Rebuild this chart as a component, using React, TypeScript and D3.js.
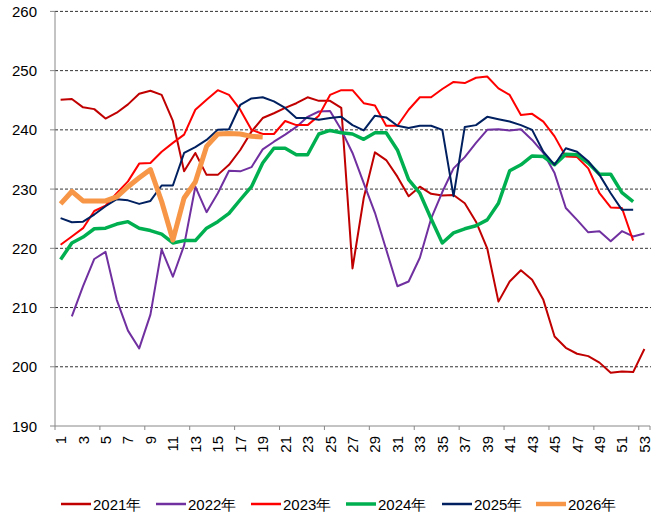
import React from "react";
import * as d3 from "d3";

const weeks: number[] = Array.from({ length: 53 }, (_, i) => i + 1);
const yTicks: number[] = [190, 200, 210, 220, 230, 240, 250, 260];
const seriesNames: string[] = ["2021年", "2022年", "2023年", "2024年", "2025年", "2026年"];
const seriesColors: string[] = ["#C00000", "#7030A0", "#FF0000", "#00B050", "#002060", "#F79646"];
const seriesWidths: number[] = [2, 2, 2, 3.5, 2, 5];

const s2021: (number | null)[] = [245.1, 245.2, 243.8, 243.5, 241.9, 242.9, 244.3, 246.1, 246.6, 245.9, 241.5, 233, 236.1, 232.4, 232.4, 234.1, 236.6, 239.7, 242, 242.8, 243.7, 244.5, 245.5, 244.9, 244.9, 243.7, 216.6, 228.5, 236.2, 234.9, 232.1, 228.8, 230.4, 229.2, 228.9, 229, 227.6, 224.5, 220, 211, 214.4, 216.3, 214.7, 211.3, 205.1, 203.2, 202.2, 201.8, 200.7, 199, 199.2, 199.1, 203];
const s2022: (number | null)[] = [null, 208.5, 213.6, 218.2, 219.4, 211.3, 206.1, 203.1, 208.8, 219.8, 215.2, 220.5, 230.4, 226.1, 229.3, 233.1, 233, 233.7, 236.7, 238, 239.2, 240.5, 242.2, 243.1, 243.2, 240, 236.1, 231, 226, 219.8, 213.6, 214.4, 218.4, 225, 229.5, 233.5, 235.4, 237.8, 240, 240.1, 239.9, 240.1, 238.3, 236.1, 232.7, 226.8, 224.8, 222.7, 222.9, 221.2, 222.9, 222, 222.5];
const s2023: (number | null)[] = [220.6, 222, 223.4, 226.3, 227.2, 229.3, 231.3, 234.3, 234.4, 236.3, 237.8, 239.2, 243.4, 245.1, 246.7, 245.9, 243.4, 240, 239.3, 239.3, 241.5, 240.8, 240.8, 242.4, 245.9, 246.7, 246.7, 244.5, 244.1, 240.7, 240.7, 243.4, 245.5, 245.5, 246.9, 248.1, 247.9, 248.8, 249, 247, 245.9, 242.5, 242.7, 241.4, 238.9, 235.5, 235.4, 233.5, 229.3, 226.9, 226.8, 221.3, null];
const s2024: (number | null)[] = [218.1, 220.9, 221.9, 223.3, 223.4, 224.1, 224.5, 223.4, 223, 222.4, 220.9, 221.3, 221.3, 223.4, 224.5, 225.9, 228.2, 230.4, 234.4, 236.9, 236.9, 235.8, 235.8, 239.3, 239.9, 239.5, 239.3, 238.4, 239.5, 239.5, 236.6, 231.6, 229.3, 225, 220.9, 222.6, 223.3, 223.8, 224.8, 227.6, 233.1, 234.1, 235.6, 235.5, 234.1, 235.9, 235.8, 234.4, 232.5, 232.5, 229.4, 227.9, null];
const s2025: (number | null)[] = [225.1, 224.4, 224.5, 225.7, 227.1, 228.3, 228.1, 227.5, 228, 230.6, 230.6, 236.1, 237.1, 238.3, 240, 240.1, 244.2, 245.3, 245.5, 244.8, 243.7, 242, 242, 241.7, 242, 242.2, 240.8, 239.9, 242.4, 242.1, 240.7, 240.3, 240.7, 240.7, 240, 228.8, 240.5, 240.8, 242.2, 241.8, 241.4, 240.8, 240, 236.3, 234.1, 236.9, 236.3, 234.7, 232.4, 229.3, 226.5, 226.5, null];
const s2026: (number | null)[] = [227.5, 229.6, 228, 228, 228, 228.7, 230.4, 231.9, 233.3, 227.9, 221.4, 228.5, 231.2, 237.2, 239.3, 239.4, 239.3, 238.9, 238.8];

const allSeries = [s2021, s2022, s2023, s2024, s2025, s2026];

const W = 665;
const H = 518;
const FONT = "'Liberation Sans Narrow', 'Liberation Sans', Arial, sans-serif";

export default function App() {
  const x = d3.scaleBand<number>().domain(weeks).range([55, 650]).padding(0);
  const y = d3.scaleLinear().domain([190, 260]).range([426, 11.4]);
  const cx = (w: number) => (x(w) as number) + x.bandwidth() / 2;

  const line = d3
    .line<number | null>()
    .defined((d) => d != null)
    .x((_, i) => cx(weeks[i]))
    .y((d) => y(d as number));

  const tickWeeks = weeks.filter((w) => (w - 1) % 4 === 0);
  const legendX = [61, 156, 251, 346, 442, 536];

  return (
    <svg
      width={W}
      height={H}
      style={{ position: "absolute", left: 0, top: 0, background: "#fff" }}
    >
      {/* gridlines */}
      {yTicks.filter((t) => t !== 190).map((t) => (
        <line
          key={"g" + t}
          x1={55}
          x2={651}
          y1={y(t)}
          y2={y(t)}
          stroke="#333"
          strokeWidth={1}
          strokeDasharray="3,2"
        />
      ))}
      {/* y axis */}
      <line x1={55} x2={55} y1={y(260)} y2={y(190)} stroke="#888" strokeWidth={1} />
      {yTicks.map((t) => (
        <g key={"yt" + t}>
          <line x1={50} x2={55} y1={y(t)} y2={y(t)} stroke="#888" />
          <text
            x={37}
            y={y(t)}
            textAnchor="end"
            dominantBaseline="central"
            fontFamily={FONT}
            fontSize={15}
            fill="#000"
          >
            {t}
          </text>
        </g>
      ))}
      {/* x axis */}
      <line x1={55} x2={650} y1={y(190)} y2={y(190)} stroke="#888" strokeWidth={1} />
      {tickWeeks.map((w) => (
        <line
          key={"xt" + w}
          x1={x(w) as number}
          x2={x(w) as number}
          y1={y(190)}
          y2={y(190) + 4}
          stroke="#888"
        />
      ))}
      <line x1={650} x2={650} y1={y(190)} y2={y(190) + 4} stroke="#888" />
      {weeks.filter((w) => w % 2 === 1).map((w) => (
        <text
          key={"xl" + w}
          transform={`translate(${cx(w)},436) rotate(-90)`}
          textAnchor="end"
          dominantBaseline="central"
          fontFamily={FONT}
          fontSize={15}
          fill="#000"
        >
          {w}
        </text>
      ))}
      {/* series */}
      {allSeries.map((s, i) => (
        <path
          key={"s" + i}
          d={line(s) || ""}
          fill="none"
          stroke={seriesColors[i]}
          strokeWidth={seriesWidths[i]}
          strokeLinejoin="round"
          strokeLinecap="butt"
        />
      ))}
      {/* legend */}
      {seriesNames.map((n, i) => (
        <g key={"lg" + i}>
          <line
            x1={legendX[i]}
            x2={legendX[i] + 30}
            y1={504}
            y2={504}
            stroke={seriesColors[i]}
            strokeWidth={seriesWidths[i] === 5 ? 4.5 : seriesWidths[i] === 3.5 ? 3.5 : 2.5}
          />
          <text
            x={legendX[i] + 32}
            y={504}
            dominantBaseline="central"
            fontFamily={FONT}
            fontSize={15}
            fill="#000"
          >
            {n}
          </text>
        </g>
      ))}
    </svg>
  );
}
